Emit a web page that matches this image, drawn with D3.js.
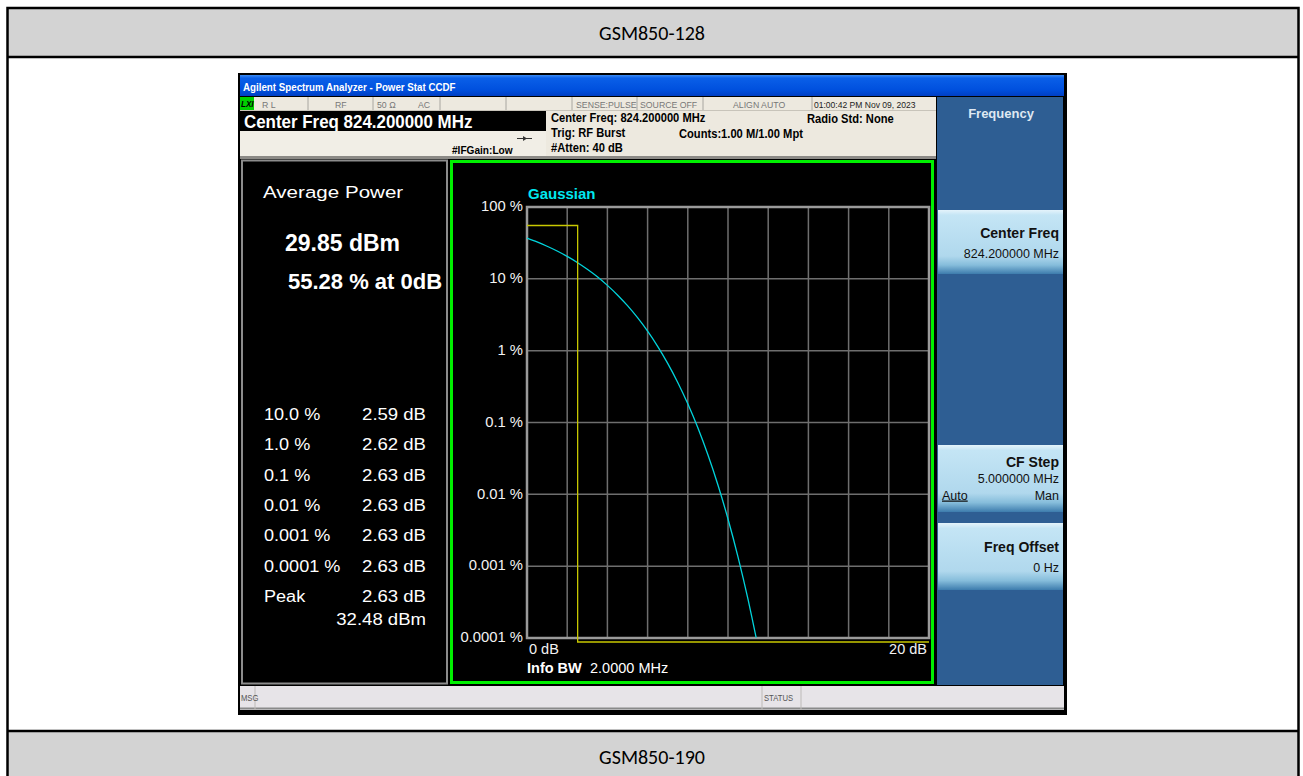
<!DOCTYPE html>
<html lang="en">
<head>
<meta charset="UTF-8">
<title>GSM850 CCDF</title>
<style>
  body { margin: 0; background: #fff; }
  svg { display: block; }
</style>
</head>
<body>
<script src="https://cdn.jsdelivr.net/npm/d3@7"></script>
<script>
// ---- data ----
var yTickValues = [100, 10, 1, 0.1, 0.01, 0.001, 0.0001];
var yTickLabels = ["100 %", "10 %", "1 %", "0.1 %", "0.01 %", "0.001 %", "0.0001 %"];
var xGridValues = [0, 2, 4, 6, 8, 10, 12, 14, 16, 18, 20];
var xEndLabels = ["0 dB", "20 dB"];

// measured trace (yellow)
var measuredDb  = [0, 2.52, 2.52, 20];
var measuredPct = [55.28, 55.28, 0.000088, 0.000088];

// gaussian reference (cyan)
var gaussDb  = [0, 0.5, 1, 1.5, 2, 2.5, 3, 3.5, 4, 4.5, 5, 5.5, 6, 6.5, 7, 7.5, 8, 8.5, 9, 9.5, 10, 10.5, 11, 11.2, 11.4];
var gaussPct = [36.8, 32.6, 28.4, 24.4, 20.5, 16.9, 13.6, 10.7, 8.11, 5.97, 4.23, 2.88, 1.87, 1.15, 0.665, 0.361,
                0.182, 0.0843, 0.0355, 0.0135, 0.00454, 0.00134, 0.000341, 0.000188, 0.000101];

var statLabels = ["10.0 %", "1.0 %", "0.1 %", "0.01 %", "0.001 %", "0.0001 %", "Peak"];
var statValues = ["2.59 dB", "2.62 dB", "2.63 dB", "2.63 dB", "2.63 dB", "2.63 dB", "2.63 dB"];

var W = 1303, H = 776;
var ARIAL = "'Liberation Sans', Arimo, Arial, Helvetica, sans-serif";
var svg = d3.select("body").append("svg").attr("width", W).attr("height", H);
var defs = svg.append("defs");

function grad(id, stops) {
  var g = defs.append("linearGradient").attr("id", id)
    .attr("x1", 0).attr("y1", 0).attr("x2", 0).attr("y2", 1);
  stops.forEach(function(s) { g.append("stop").attr("offset", s[0]).attr("stop-color", s[1]); });
}
grad("titleBar", [[0, "#3d8bf2"], [0.15, "#0a5fe8"], [0.7, "#0050de"], [1, "#003fc4"]]);
grad("softkey", [[0, "#e4f3fb"], [0.08, "#c4e5f5"], [0.72, "#b0d8ed"], [0.86, "#86bddb"], [1, "#3d7cad"]]);

// text helper, sx = horizontal stretch
function txt(parent, x, y, str, size, opt) {
  opt = opt || {};
  var g = parent.append("g").attr("transform", "translate(" + x + "," + y + ") scale(" + (opt.sx || 1) + ",1)");
  return g.append("text")
    .attr("text-anchor", opt.anchor || "start")
    .attr("font-size", size)
    .attr("font-weight", opt.bold ? "bold" : "normal")
    .attr("fill", opt.fill || "#000")
    .attr("font-family", opt.family || ARIAL)
    .text(str);
}

// ---- report table ----
svg.append("rect").attr("x", 7.5).attr("y", 8).attr("width", 1291).attr("height", 49).attr("fill", "#d3d3d3");
svg.append("rect").attr("x", 7.5).attr("y", 731).attr("width", 1291).attr("height", 50).attr("fill", "#d3d3d3");
svg.append("rect").attr("x", 7.5).attr("y", 8).attr("width", 1291).attr("height", 780)
  .attr("fill", "none").attr("stroke", "#000").attr("stroke-width", 2.5);
[57, 731].forEach(function(y) {
  svg.append("line").attr("x1", 7).attr("x2", 1299).attr("y1", y).attr("y2", y)
    .attr("stroke", "#000").attr("stroke-width", 2.5);
});
txt(svg, 652, 40, "GSM850-128", 20, { anchor: "middle", family: "Carlito, 'Open Sans', sans-serif" });
txt(svg, 652, 764, "GSM850-190", 20, { anchor: "middle", family: "Carlito, 'Open Sans', sans-serif" });

// ---- analyzer screenshot ----
var scr = svg.append("g");
scr.append("rect").attr("x", 238).attr("y", 73).attr("width", 829).attr("height", 642).attr("fill", "#000");
scr.append("rect").attr("x", 240).attr("y", 75).attr("width", 824).attr("height", 21).attr("fill", "url(#titleBar)");
txt(scr, 243, 91, "Agilent Spectrum Analyzer - Power Stat CCDF", 10.5, { bold: true, fill: "#fff", sx: 0.93 });

// status row
scr.append("rect").attr("x", 240).attr("y", 97).attr("width", 696).attr("height", 60).attr("fill", "#ede9df");
scr.append("rect").attr("x", 240).attr("y", 97).attr("width", 14).attr("height", 13).attr("fill", "#00d000");
txt(scr, 241, 107, "LXI", 9, { bold: true, fill: "#000", sx: 0.9 }).style("font-style", "italic");
[308, 373, 440, 506, 572, 637, 703, 812].forEach(function(x) {
  scr.append("line").attr("x1", x).attr("x2", x).attr("y1", 97).attr("y2", 110).attr("stroke", "#a8a6a0");
});
scr.append("line").attr("x1", 240).attr("x2", 936).attr("y1", 110.5).attr("y2", 110.5).attr("stroke", "#c8c4ba");
[["R L", 262], ["RF", 335], ["50 Ω", 377], ["AC", 418], ["SENSE:PULSE", 576], ["SOURCE OFF", 640], ["ALIGN AUTO", 733]]
  .forEach(function(d) { txt(scr, d[1], 107.5, d[0], 9.5, { fill: "#777", sx: 0.92 }); });
txt(scr, 814, 107.5, "01:00:42 PM Nov 09, 2023", 9.5, { fill: "#222", sx: 0.9 });

scr.append("rect").attr("x", 240).attr("y", 111).attr("width", 306).attr("height", 20).attr("fill", "#000");
txt(scr, 244, 127.5, "Center Freq 824.200000 MHz", 18, { bold: true, fill: "#fff", sx: 0.94 });
scr.append("rect").attr("x", 240).attr("y", 131).attr("width", 306).attr("height", 26).attr("fill", "#f1eee6");

var infoSize = 12, infoSx = 0.93;
txt(scr, 551, 122, "Center Freq: 824.200000 MHz", infoSize, { bold: true, sx: infoSx });
txt(scr, 551, 137, "Trig: RF Burst", infoSize, { bold: true, sx: infoSx });
txt(scr, 551, 151.5, "#Atten: 40 dB", infoSize, { bold: true, sx: infoSx });
txt(scr, 807, 123, "Radio Std: None", infoSize, { bold: true, sx: infoSx });
txt(scr, 679, 137.5, "Counts:1.00 M/1.00 Mpt", infoSize, { bold: true, sx: infoSx });
txt(scr, 452, 154, "#IFGain:Low", 11, { bold: true, sx: 0.92 });
// trigger arrow glyph
scr.append("line").attr("x1", 517).attr("x2", 532).attr("y1", 138.5).attr("y2", 138.5).attr("stroke", "#333");
scr.append("path").attr("d", "M523,136 L527,138.5 L523,141 Z").attr("fill", "#333");

scr.append("rect").attr("x", 240).attr("y", 156).attr("width", 696).attr("height", 3).attr("fill", "#8c8a86");

// right softkey panel
scr.append("rect").attr("x", 937).attr("y", 97).attr("width", 126).attr("height", 588).attr("fill", "#2e5e93");
txt(scr, 1001, 118, "Frequency", 13, { bold: true, fill: "#dfe8f2", anchor: "middle" });
[[210, 64], [445, 67], [523, 67]].forEach(function(b) {
  scr.append("rect").attr("x", 938).attr("y", b[0]).attr("width", 125).attr("height", b[1]).attr("fill", "url(#softkey)");
});
txt(scr, 1059, 238, "Center Freq", 14.5, { bold: true, fill: "#111", anchor: "end", sx: 0.97 });
txt(scr, 1059, 258, "824.200000 MHz", 12.5, { fill: "#111", anchor: "end" });
txt(scr, 1059, 467, "CF Step", 14.5, { bold: true, fill: "#111", anchor: "end", sx: 0.97 });
txt(scr, 1059, 483, "5.000000 MHz", 12.5, { fill: "#111", anchor: "end" });
txt(scr, 942, 499.5, "Auto", 12.5, { fill: "#111" }).attr("text-decoration", "underline");
txt(scr, 1059, 499.5, "Man", 12.5, { fill: "#111", anchor: "end" });
txt(scr, 1059, 552, "Freq Offset", 14.5, { bold: true, fill: "#111", anchor: "end", sx: 0.97 });
txt(scr, 1059, 572, "0 Hz", 12.5, { fill: "#111", anchor: "end" });

// bottom status bar
scr.append("rect").attr("x", 240).attr("y", 686).attr("width", 824).attr("height", 24).attr("fill", "#e7e4e8");
scr.append("line").attr("x1", 240).attr("x2", 1064).attr("y1", 708.5).attr("y2", 708.5).attr("stroke", "#8a8a8a").attr("stroke-width", 2);
[255, 762, 801].forEach(function(x) {
  scr.append("line").attr("x1", x).attr("x2", x).attr("y1", 686).attr("y2", 710).attr("stroke", "#bdbab8");
});
txt(scr, 241, 701, "MSG", 9, { fill: "#555", sx: 0.85 });
txt(scr, 764, 701, "STATUS", 9, { fill: "#555", sx: 0.85 });

// left results panel
var left = scr.append("g");
left.append("rect").attr("x", 242).attr("y", 160.5).attr("width", 205).attr("height", 523)
  .attr("fill", "#000").attr("stroke", "#8c8c8c").attr("stroke-width", 2);
txt(left, 263, 198, "Average Power", 17, { fill: "#fff", sx: 1.21 });
txt(left, 285, 251, "29.85 dBm", 23, { bold: true, fill: "#fff" });
txt(left, 288, 289, "55.28 % at 0dB", 22, { bold: true, fill: "#fff" });
statLabels.forEach(function(l, i) {
  var y = 420 + i * 30.3;
  txt(left, 264, y, l, 16, { fill: "#fff", sx: 1.13 });
  txt(left, 426, y, statValues[i], 16, { fill: "#fff", sx: 1.16, anchor: "end" });
});
txt(left, 426, 625, "32.48 dBm", 16, { fill: "#fff", sx: 1.16, anchor: "end" });

// ---- CCDF chart ----
var panel = scr.append("g");
panel.append("rect").attr("x", 451.5).attr("y", 161.5).attr("width", 481).attr("height", 521)
  .attr("fill", "#000").attr("stroke", "#00f000").attr("stroke-width", 3);

var plot = { left: 527, right: 929, top: 207, bottom: 638 };
var x = d3.scaleLinear().domain([0, 20]).range([plot.left, plot.right]);
var y = d3.scaleLog().domain([0.0001, 100]).range([plot.bottom, plot.top]);

panel.selectAll("line.vgrid").data(xGridValues).enter().append("line").attr("class", "vgrid")
  .attr("x1", function(d) { return x(d); }).attr("x2", function(d) { return x(d); })
  .attr("y1", plot.top).attr("y2", plot.bottom)
  .attr("stroke", "#6e6e6e").attr("stroke-width", 1.5);
panel.selectAll("line.hgrid").data(yTickValues).enter().append("line").attr("class", "hgrid")
  .attr("x1", plot.left).attr("x2", plot.right)
  .attr("y1", function(d) { return y(d); }).attr("y2", function(d) { return y(d); })
  .attr("stroke", "#6e6e6e").attr("stroke-width", 1.5);
panel.append("rect").attr("x", plot.left).attr("y", plot.top)
  .attr("width", plot.right - plot.left).attr("height", plot.bottom - plot.top)
  .attr("fill", "none").attr("stroke", "#9a9a9a").attr("stroke-width", 2.5);

var yAxis = d3.axisLeft(y).tickValues(yTickValues)
  .tickFormat(function(d, i) { return yTickLabels[i]; })
  .tickSize(0).tickPadding(4);
var yG = panel.append("g").attr("transform", "translate(" + plot.left + ",0)").call(yAxis);
yG.select(".domain").remove();
yG.attr("font-family", ARIAL);
yG.selectAll("text").attr("fill", "#f2f2f2").attr("font-size", 14.8).attr("dy", "0.25em");

var line = d3.line()
  .x(function(d) { return x(d[0]); })
  .y(function(d) { return y(d[1]); });

panel.append("path")
  .datum(gaussDb.map(function(d, i) { return [d, gaussPct[i]]; }))
  .attr("d", line.curve(d3.curveMonotoneX))
  .attr("fill", "none").attr("stroke", "#00d4dc").attr("stroke-width", 1.3);

panel.append("path")
  .datum(measuredDb.map(function(d, i) { return [d, measuredPct[i]]; }))
  .attr("d", line.curve(d3.curveLinear))
  .attr("fill", "none").attr("stroke", "#c8c800").attr("stroke-width", 1.3);

txt(panel, 528, 199, "Gaussian", 15, { bold: true, fill: "#00e8f0" });
txt(panel, x(0) + 2, 654, xEndLabels[0], 14.5, { fill: "#f2f2f2" });
txt(panel, x(20) - 2, 654, xEndLabels[1], 14.5, { fill: "#f2f2f2", anchor: "end" });
txt(panel, 527, 673, "Info BW", 14.5, { bold: true, fill: "#fff" });
txt(panel, 590, 673, "2.0000 MHz", 14.5, { fill: "#fff" });
</script>
</body>
</html>
